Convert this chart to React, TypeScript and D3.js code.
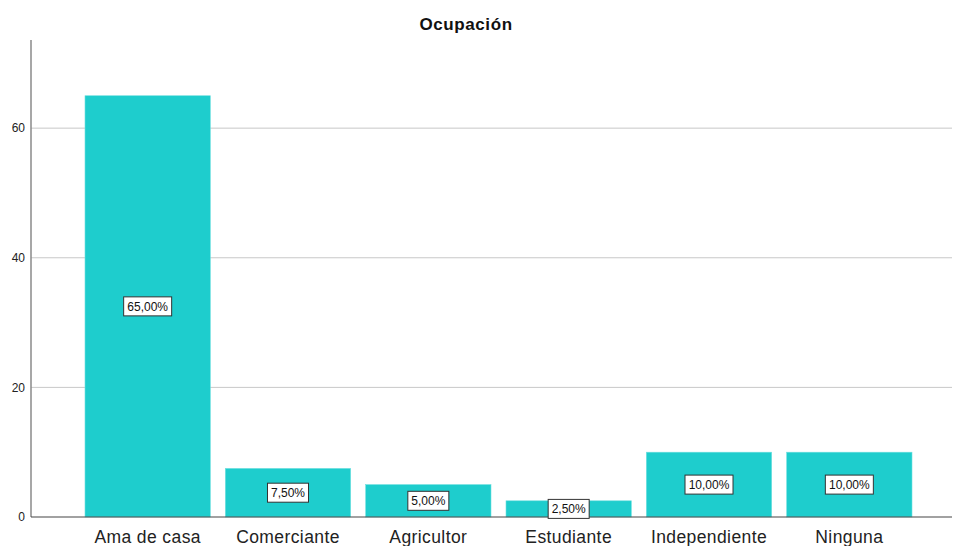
import * as d3 from 'd3';

const categories = ['Ama de casa', 'Comerciante', 'Agricultor', 'Estudiante', 'Independiente', 'Ninguna'];
const percents = [65, 7.5, 5, 2.5, 10, 10];
const yTicks = [0, 20, 40, 60];

const WIDTH = 954;
const HEIGHT = 546;
const BAR_COLOR = '#1ecdcd';

export default function App() {
  const left = 31;
  const right = 952;
  const top = 40;
  const bottom = 517;

  const x = d3.scaleBand().domain(categories).range([85, 912]).paddingInner(0.107).paddingOuter(0);
  const y = d3.scaleLinear().domain([0, 73.6]).range([bottom, top]);

  const fmt = (v: number) => v.toFixed(2).replace('.', ',') + '%';

  return (
    <svg
      width={WIDTH}
      height={HEIGHT}
      style={{ position: 'absolute', left: 0, top: 0, fontFamily: 'Liberation Sans, Arial, sans-serif' }}
    >
      <rect width={WIDTH} height={HEIGHT} fill="#fff" />
      <text x={466} y={30} textAnchor="middle" fontSize={17} fontWeight="bold" letterSpacing={0.6} fill="#111">
        Ocupación
      </text>

      {/* grid */}
      {yTicks.filter((t) => t > 0).map((t) => (
        <line key={t} x1={left} x2={right} y1={y(t)} y2={y(t)} stroke="#c8c8c8" strokeWidth={1} />
      ))}
      {yTicks.map((t) => (
        <text key={t} x={25} y={y(t)} dy="0.35em" textAnchor="end" fontSize={12} fill="#222">
          {t}
        </text>
      ))}

      {/* bars */}
      {categories.map((c, i) => (
        <rect
          key={c}
          x={x(c)}
          y={y(percents[i])}
          width={x.bandwidth()}
          height={y(0) - y(percents[i])}
          fill={BAR_COLOR}
          stroke="#6fdfdf"
          strokeWidth={0.6}
        />
      ))}

      {/* axes */}
      <line x1={left} x2={left} y1={top} y2={bottom} stroke="#8a8a8a" strokeWidth={1.5} />
      <line x1={left} x2={right} y1={bottom} y2={bottom} stroke="#444" strokeWidth={1.2} />

      {/* labels */}
      {categories.map((c, i) => {
        const cx = (x(c) ?? 0) + x.bandwidth() / 2;
        const cy = (y(percents[i]) + y(0)) / 2;
        const label = fmt(percents[i]);
        const w = label.length * 7 + 6;
        return (
          <g key={c}>
            <rect x={cx - w / 2} y={cy - 9.5} width={w} height={19} fill="#fff" stroke="#333" strokeWidth={1} />
            <text x={cx} y={cy} dy="0.35em" textAnchor="middle" fontSize={12} fill="#111">
              {label}
            </text>
            <text x={cx} y={bottom + 26} textAnchor="middle" fontSize={17.5} letterSpacing={0.4} fill="#222">
              {c}
            </text>
          </g>
        );
      })}
    </svg>
  );
}
